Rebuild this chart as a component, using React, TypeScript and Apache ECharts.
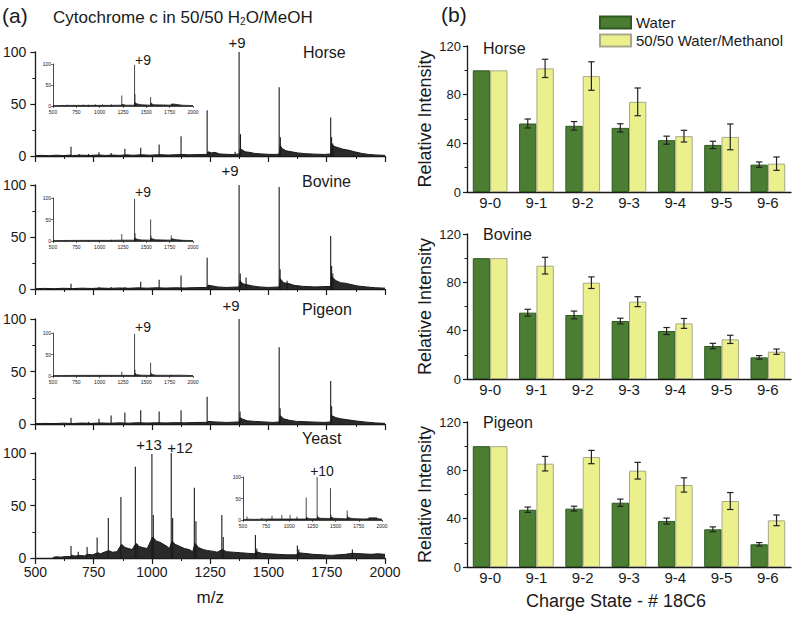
import React, { useEffect, useRef } from 'react';
import * as echarts from 'echarts';

// ---------- Panel (b): relative intensity bar data ----------
const chargeStates = ['9-0', '9-1', '9-2', '9-3', '9-4', '9-5', '9-6'];
const horseWater = [100, 56.3, 54.4, 52.7, 42.6, 38.7, 22.5];
const horseWaterErr = [0, 3.7, 3.5, 3.4, 3.3, 3.0, 2.2];
const horseMeoh = [100, 101.6, 95.3, 74.1, 45.9, 45.3, 23.3];
const horseMeohErr = [0, 7.5, 11.7, 11.4, 4.8, 10.6, 5.5];
const bovineWater = [100, 54.9, 53.0, 48.0, 39.7, 27.3, 17.9];
const bovineWaterErr = [0, 2.8, 3.2, 2.3, 2.9, 2.2, 1.5];
const bovineMeoh = [100, 93.8, 79.7, 64.0, 46.0, 32.8, 22.6];
const bovineMeohErr = [0, 6.9, 4.8, 4.1, 4.1, 3.4, 2.2];
const pigeonWater = [100, 47.4, 48.3, 53.2, 38.0, 31.2, 18.8];
const pigeonWaterErr = [0, 2.2, 2.0, 3.0, 2.5, 2.0, 1.4];
const pigeonMeoh = [100, 85.5, 91.0, 79.7, 67.9, 54.6, 38.6];
const pigeonMeohErr = [0, 6.0, 5.5, 6.9, 5.9, 7.0, 4.4];

// ---------- Panel (a): mass spectra, peaks [m/z, intensity] and baseline [m/z, level] ----------
const horsePeaks = [[653, 9], [688, 2], [728, 2], [773, 3.5], [825, 3], [884, 7], [952, 8], [1031, 11], [1125, 19], [1237, 44], [1245, 4], [1357, 4], [1374, 100], [1380, 21], [1546, 66], [1551, 18], [1767, 37], [1771, 18], [1776, 12]];
const horseBase = [[500, 0.3], [530, 0.6], [560, 0.3], [590, 0.8], [620, 0.4], [650, 0.9], [660, 0.5], [700, 0.8], [730, 0.5], [770, 1], [800, 0.6], [830, 0.9], [860, 0.6], [890, 1.1], [920, 0.7], [955, 1.2], [990, 0.8], [1035, 1.3], [1070, 0.9], [1100, 1.2], [1130, 1.5], [1160, 1.1], [1200, 1.4], [1238, 1.5], [1240, 4], [1255, 3], [1270, 3.5], [1290, 2], [1320, 1.6], [1350, 1.4], [1376, 2], [1378, 7], [1390, 5.5], [1400, 4], [1420, 3.5], [1440, 2.5], [1470, 2], [1500, 1.6], [1530, 1.5], [1548, 2], [1550, 10], [1560, 7], [1575, 5], [1600, 4], [1625, 3], [1660, 2.2], [1700, 1.8], [1740, 1.5], [1768, 2], [1770, 11], [1785, 9], [1800, 8], [1820, 6.5], [1845, 5.5], [1870, 4], [1900, 2.5], [1930, 1.5], [1960, 1], [2000, 0.6]];

const bovinePeaks = [[653, 5], [773, 2], [825, 2], [884, 2], [952, 7], [1031, 9], [1125, 13], [1237, 30], [1244, 4], [1374, 100], [1379, 15], [1404, 11], [1546, 98], [1550, 19], [1580, 8], [1767, 51], [1771, 22], [1776, 15]];
const bovineBase = [[500, 0.3], [540, 0.6], [580, 0.3], [620, 0.7], [660, 0.4], [700, 0.8], [740, 0.5], [780, 0.9], [820, 0.6], [860, 1], [900, 0.7], [940, 1.1], [980, 0.8], [1020, 1.2], [1060, 0.9], [1100, 1.2], [1140, 1], [1180, 1.3], [1238, 1.5], [1240, 3.5], [1260, 3], [1280, 2], [1320, 1.5], [1376, 2], [1378, 8], [1390, 5], [1410, 4], [1430, 3], [1460, 2], [1500, 1.5], [1548, 2], [1550, 10], [1565, 6], [1590, 5], [1610, 3.5], [1650, 2.5], [1700, 2], [1768, 2.5], [1770, 12], [1790, 8], [1810, 6], [1830, 5.5], [1850, 4.5], [1880, 3], [1920, 2], [1960, 1.2], [2000, 0.8]];

const pigeonPeaks = [[653, 6], [728, 2], [773, 5], [825, 8], [884, 11], [952, 13], [1031, 12], [1125, 13], [1237, 26], [1374, 100], [1378, 12], [1546, 73], [1550, 15], [1767, 41], [1771, 17]];
const pigeonBase = [[500, 0.3], [540, 0.6], [580, 0.4], [620, 0.8], [660, 0.5], [700, 0.9], [740, 0.6], [780, 1], [820, 0.7], [860, 1.1], [900, 0.8], [940, 1.2], [980, 0.9], [1020, 1.2], [1060, 1], [1100, 1.3], [1140, 1.1], [1180, 1.4], [1238, 1.6], [1240, 2.5], [1270, 2], [1320, 1.5], [1376, 2], [1378, 6], [1390, 4.5], [1410, 3], [1440, 2.5], [1480, 2], [1520, 1.5], [1548, 2], [1550, 8], [1565, 5], [1590, 3.5], [1620, 2.5], [1680, 2], [1740, 1.5], [1768, 2], [1770, 8], [1790, 6], [1810, 5], [1840, 4], [1870, 3], [1910, 2], [1960, 1], [2000, 0.6]];

const yeastPeaks = [[653, 11.5], [684, 6], [722, 10.5], [765, 19.5], [813, 38], [867, 58], [929, 87], [937, 13], [1000, 99], [1006, 41], [1083, 100], [1089, 38], [1182, 67], [1189, 35], [1300, 41], [1306, 20], [1444, 22], [1450, 9], [1624, 12], [1630, 8], [1860, 8]];
const yeastBase = [[575, 0.5], [590, 1.2], [610, 0.8], [630, 1.5], [650, 1.2], [655, 2.5], [670, 1.8], [690, 2.5], [710, 2], [725, 3.5], [745, 3], [768, 5], [780, 4], [795, 5.5], [815, 7], [830, 5.5], [850, 6], [870, 13], [885, 10], [900, 9], [915, 8], [932, 14], [945, 11], [960, 10], [980, 9], [1003, 20], [1020, 16], [1035, 15], [1050, 13], [1065, 11], [1075, 9], [1086, 16], [1100, 13], [1120, 11], [1140, 9], [1160, 8], [1175, 6], [1185, 14], [1200, 10], [1220, 8], [1240, 7], [1260, 6.5], [1280, 5.5], [1302, 8], [1320, 6], [1350, 5.5], [1380, 5], [1410, 4.5], [1440, 4], [1448, 6], [1470, 4.5], [1500, 4], [1540, 3.5], [1580, 3], [1620, 3], [1628, 5], [1650, 4.5], [1690, 3.5], [1730, 3], [1770, 2.5], [1800, 3], [1830, 3.5], [1860, 4.5], [1900, 4], [1940, 3.5], [1970, 4], [2000, 3.5]];

// insets (water spectra)
const horseInsetPeaks = [[653, 3], [728, 2], [825, 3], [884, 3], [952, 4], [1031, 4], [1125, 4], [1237, 25], [1374, 98], [1378, 28], [1546, 21], [1550, 8], [1767, 4]];
const horseInsetBase = [[500, 1], [700, 1.5], [900, 1.5], [1100, 1.5], [1238, 2], [1240, 4], [1280, 2], [1376, 2], [1378, 8], [1400, 5], [1450, 3], [1548, 2], [1550, 6], [1580, 3], [1700, 2.5], [1768, 2], [1770, 5], [1820, 4], [1880, 2], [2000, 1]];
const bovineInsetPeaks = [[653, 2], [884, 2], [1031, 2], [1125, 3], [1237, 16], [1374, 98], [1379, 18], [1546, 50], [1550, 12], [1767, 13], [1771, 6]];
const bovineInsetBase = [[500, 1], [800, 1.5], [1100, 1.5], [1238, 2], [1240, 3], [1376, 2], [1378, 7], [1400, 4], [1450, 2.5], [1548, 2], [1550, 6], [1600, 3], [1768, 2], [1770, 5], [1830, 3], [1900, 1.5], [2000, 1]];
const pigeonInsetPeaks = [[653, 2], [1031, 2], [1125, 2], [1237, 10], [1374, 98], [1378, 15], [1546, 31], [1550, 8], [1767, 3]];
const pigeonInsetBase = [[500, 1], [800, 1.5], [1100, 1.5], [1376, 1.5], [1378, 6], [1400, 3], [1450, 2], [1548, 1.5], [1550, 4], [1600, 2], [1768, 1.5], [1770, 3], [1850, 2], [2000, 1]];
const yeastInsetPeaks = [[543, 8], [704, 5], [813, 10], [919, 12], [1008, 12], [1083, 8], [1182, 52], [1186, 8], [1300, 100], [1305, 10], [1444, 74], [1449, 12], [1624, 22], [1629, 10], [1860, 5]];
const yeastInsetBase = [[500, 1], [560, 2], [620, 1.5], [700, 2], [800, 2.5], [900, 2.5], [1000, 2.5], [1100, 2.5], [1184, 2.5], [1186, 5], [1220, 3], [1302, 3], [1304, 6], [1340, 4], [1446, 3.5], [1448, 7], [1480, 4], [1600, 3], [1626, 3], [1628, 6], [1680, 3.5], [1800, 2.5], [1850, 3], [1860, 5], [1940, 5], [1960, 3], [2000, 2]];

const FONT = 'Liberation Sans, Arial, sans-serif';
const INK = '#1a1a1a';
const GREEN = '#4b7d33';
const GREEN_EDGE = '#2f5a20';
const YELLOW = '#ecf08c';
const YELLOW_EDGE = '#a9a98a';

const plain = (v: number) => String(v);

export default function App() {
  const ref = useRef<HTMLDivElement>(null);
  useEffect(() => {
    if (!ref.current) return;
    const chart = echarts.init(ref.current, undefined, { renderer: 'svg' });

    const grids = [
      { left: 35, top: 52, width: 350, height: 104 },
      { left: 35, top: 185, width: 350, height: 104 },
      { left: 35, top: 319, width: 350, height: 105 },
      { left: 35, top: 453, width: 350, height: 105 },
      { left: 53, top: 64, width: 140, height: 42 },
      { left: 53, top: 198, width: 140, height: 43 },
      { left: 53, top: 333, width: 140, height: 43 },
      { left: 243, top: 477, width: 139, height: 43 },
      { left: 467, top: 46, width: 324, height: 146 },
      { left: 467, top: 234, width: 324, height: 145 },
      { left: 467, top: 422, width: 324, height: 145 },
    ];

    const xAxes: any[] = [];
    const yAxes: any[] = [];
    // main spectra axes
    for (let i = 0; i < 4; i++) {
      xAxes.push({
        type: 'value', gridIndex: i, min: 500, max: 2000, interval: 250,
        axisLine: { lineStyle: { color: INK, width: 1.3 } },
        axisTick: { length: 6, lineStyle: { color: INK, width: 1.2 } },
        minorTick: { show: true, splitNumber: 2, length: 3, lineStyle: { color: INK, width: 1 } },
        splitLine: { show: false },
        axisLabel: { show: i === 3, fontSize: 14, fontFamily: FONT, color: INK, margin: 7, formatter: plain },
        name: i === 3 ? 'm/z' : '', nameLocation: 'middle', nameGap: 31,
        nameTextStyle: { fontSize: 17, fontFamily: FONT, color: INK },
      });
      yAxes.push({
        type: 'value', gridIndex: i, min: 0, max: 100, interval: 50,
        axisLine: { show: true, lineStyle: { color: INK, width: 1.3 } },
        axisTick: { show: true, length: 5, lineStyle: { color: INK, width: 1.2 } },
        minorTick: { show: true, splitNumber: 2, length: 3, lineStyle: { color: INK } },
        splitLine: { show: false },
        axisLabel: { fontSize: 14, fontFamily: FONT, color: INK, margin: 9 },
      });
    }
    // inset axes
    for (let i = 4; i < 8; i++) {
      xAxes.push({
        type: 'value', gridIndex: i, min: 500, max: 2000, interval: 250,
        axisLine: { lineStyle: { color: INK, width: 0.8 } },
        axisTick: { length: 2, lineStyle: { color: INK, width: 0.6 } },
        minorTick: { show: true, splitNumber: 2, length: 1, lineStyle: { color: INK, width: 0.5 } },
        splitLine: { show: false },
        axisLabel: { fontSize: 5, fontFamily: FONT, color: INK, margin: 3, formatter: plain },
      });
      yAxes.push({
        type: 'value', gridIndex: i, min: 0, max: 100, interval: 50,
        axisLine: { show: true, lineStyle: { color: INK, width: 0.8 } },
        axisTick: { show: true, length: 2, lineStyle: { color: INK, width: 0.6 } },
        splitLine: { show: false },
        axisLabel: { fontSize: 5, fontFamily: FONT, color: INK, margin: 2 },
      });
    }
    // bar axes
    for (let i = 8; i < 11; i++) {
      xAxes.push({
        type: 'category', gridIndex: i, data: chargeStates,
        axisLine: { lineStyle: { color: INK, width: 1.3 } },
        axisTick: { show: false },
        axisLabel: { fontSize: 15, fontFamily: FONT, color: INK, margin: 3 },
        name: i === 10 ? 'Charge State - # 18C6' : '', nameLocation: 'middle', nameGap: 25,
        nameTextStyle: { fontSize: 18, fontFamily: FONT, color: INK, padding: [0, 26, 0, 0] },
      });
      yAxes.push({
        type: 'value', gridIndex: i, min: 0, max: 120, interval: 40,
        axisLine: { show: true, lineStyle: { color: INK, width: 1.3 } },
        axisTick: { show: true, length: 4, lineStyle: { color: INK, width: 1.2 } },
        minorTick: { show: true, splitNumber: 2, length: 2.5, lineStyle: { color: INK } },
        splitLine: { show: false },
        axisLabel: { fontSize: 13, fontFamily: FONT, color: INK, margin: 6 },
        name: 'Relative Intensity', nameLocation: 'middle', nameGap: 33,
        nameTextStyle: { fontSize: 18, fontFamily: FONT, color: INK },
      });
    }

    const peakRender = (lw: number) => (params: any, api: any) => {
      const p0 = api.coord([api.value(0), 0]);
      const p1 = api.coord([api.value(0), api.value(1)]);
      return {
        type: 'line',
        shape: { x1: p0[0], y1: p0[1], x2: p1[0], y2: p1[1] },
        style: { stroke: INK, lineWidth: lw },
      };
    };

    const spectra = [
      [horsePeaks, horseBase], [bovinePeaks, bovineBase], [pigeonPeaks, pigeonBase], [yeastPeaks, yeastBase],
      [horseInsetPeaks, horseInsetBase], [bovineInsetPeaks, bovineInsetBase], [pigeonInsetPeaks, pigeonInsetBase], [yeastInsetPeaks, yeastInsetBase],
    ];

    const series: any[] = [];
    spectra.forEach(([peaks, base], i) => {
      const inset = i >= 4;
      series.push({
        type: 'line', xAxisIndex: i, yAxisIndex: i, data: base, symbol: 'none',
        lineStyle: { color: INK, width: inset ? 0.7 : 1 },
        areaStyle: { color: '#2a2a2a', opacity: 1 }, z: 2, silent: true,
      });
      series.push({
        type: 'custom', xAxisIndex: i, yAxisIndex: i, data: peaks,
        renderItem: peakRender(inset ? 0.8 : 1.1), z: 3, silent: true,
      });
    });

    const errRender = (side: number) => (params: any, api: any) => {
      const e = api.value(2);
      if (!e) return null;
      const idx = api.value(0);
      const v = api.value(1);
      const top = api.coord([idx, v + e]);
      const bot = api.coord([idx, v - e]);
      const band = api.size([1, 0])[0];
      const x = top[0] + (side * band * 0.375) / 2;
      const cap = 3.2;
      const st = { stroke: '#222', lineWidth: 1.2 };
      return {
        type: 'group',
        children: [
          { type: 'line', shape: { x1: x, y1: top[1], x2: x, y2: bot[1] }, style: st },
          { type: 'line', shape: { x1: x - cap, y1: top[1], x2: x + cap, y2: top[1] }, style: st },
          { type: 'line', shape: { x1: x - cap, y1: bot[1], x2: x + cap, y2: bot[1] }, style: st },
        ],
      };
    };

    const barSets = [
      [horseWater, horseWaterErr, horseMeoh, horseMeohErr],
      [bovineWater, bovineWaterErr, bovineMeoh, bovineMeohErr],
      [pigeonWater, pigeonWaterErr, pigeonMeoh, pigeonMeohErr],
    ];
    barSets.forEach(([w, we, m, me], k) => {
      const ax = 8 + k;
      series.push({
        name: 'Water', type: 'bar', xAxisIndex: ax, yAxisIndex: ax, data: w,
        barWidth: '37.5%', barGap: '0%',
        itemStyle: { color: GREEN, borderColor: GREEN_EDGE, borderWidth: 1 }, z: 2,
      });
      series.push({
        name: '50/50 Water/Methanol', type: 'bar', xAxisIndex: ax, yAxisIndex: ax, data: m,
        barWidth: '37.5%', barGap: '0%',
        itemStyle: { color: YELLOW, borderColor: YELLOW_EDGE, borderWidth: 1 }, z: 2,
      });
      series.push({
        type: 'custom', xAxisIndex: ax, yAxisIndex: ax,
        data: w.map((v, i) => [i, v, we[i]]), renderItem: errRender(-1), z: 4, silent: true,
      });
      series.push({
        type: 'custom', xAxisIndex: ax, yAxisIndex: ax,
        data: m.map((v, i) => [i, v, me[i]]), renderItem: errRender(1), z: 4, silent: true,
      });
    });

    const txt = (text: string, x: number, y: number, fontSize: number, align = 'left') => ({
      type: 'text', x, y, silent: true,
      style: { text, fontSize, fontFamily: FONT, fill: INK, align, verticalAlign: 'middle' },
    });

    const graphic: any[] = [
      txt('(a)', 2, 15, 21),
      {
        type: 'text', x: 53, y: 17, silent: true,
        style: {
          text: '{n|Cytochrome c in 50/50 H}{s|2}{n|O/MeOH}',
          fill: INK, verticalAlign: 'middle',
          rich: {
            n: { fontSize: 17, fontFamily: FONT, fill: INK },
            s: { fontSize: 10, fontFamily: FONT, fill: INK, padding: [9, 0, 0, 0] },
          },
        },
      },
      txt('(b)', 441, 14, 21),
      txt('Horse', 303, 52, 16),
      txt('Bovine', 302, 181, 16),
      txt('Pigeon', 302, 309, 16),
      txt('Yeast', 302, 438, 16),
      txt('+9', 237, 42, 15, 'center'),
      txt('+9', 230, 170, 15, 'center'),
      txt('+9', 231, 305, 15, 'center'),
      txt('+9', 143, 60, 14, 'center'),
      txt('+9', 143, 192, 14, 'center'),
      txt('+9', 143, 327, 14, 'center'),
      txt('+13', 149, 444, 15, 'center'),
      txt('+12', 180, 447, 15, 'center'),
      txt('+10', 322, 471, 14, 'center'),
      txt('Horse', 483, 48, 16),
      txt('Bovine', 483, 234, 16),
      txt('Pigeon', 483, 422.5, 16),
    ];

    chart.setOption({
      animation: false,
      backgroundColor: '#ffffff',
      grid: grids,
      xAxis: xAxes,
      yAxis: yAxes,
      legend: {
        data: ['Water', '50/50 Water/Methanol'],
        orient: 'vertical', left: 599, top: 14, padding: 0,
        itemWidth: 31, itemHeight: 12, itemGap: 1, selectedMode: false,
        icon: 'rect',
        textStyle: { fontSize: 15, fontFamily: FONT, color: INK, lineHeight: 17 },
      },
      graphic,
      series,
    });
    return () => chart.dispose();
  }, []);
  return <div ref={ref} style={{ position: 'absolute', left: 0, top: 0, width: 800, height: 618, background: '#fff' }} />;
}
